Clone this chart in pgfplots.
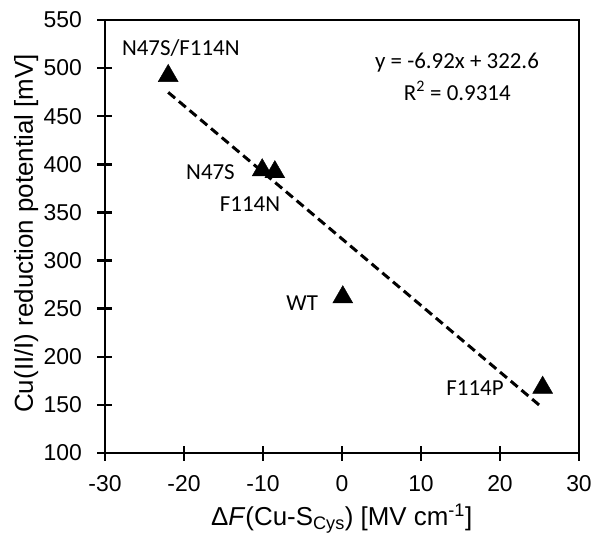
\documentclass[border=0pt]{standalone}
\usepackage{fontspec}
\setmainfont{Liberation Sans}
\newfontfamily\calibri{Carlito}
\usepackage{pgfplots}
\pgfplotsset{compat=1.18}
\begin{document}
\begin{tikzpicture}
\path[use as bounding box] (-105bp,-82bp) rectangle (492bp,453bp);
\begin{axis}[
  at={(0,0)}, anchor=south west,
  scale only axis, width=474bp, height=433bp,
  xmin=-30, xmax=30, ymin=100, ymax=550,
  xtick={-30,-20,...,30}, ytick={100,150,...,550},
  tick align=center, xtick pos=bottom, ytick pos=left,
  major tick length=15bp,
  axis line style={line width=2.5bp},
  every tick/.style={line width=2.5bp, black},
  /pgf/number format/assume math mode=true,
  ticklabel style={font=\fontsize{23}{27}\selectfont},
  yticklabel style={xshift=-12bp},
  xticklabel style={yshift=-11bp},
  xlabel={Δ\textit{F}(Cu-S\textsubscript{Cys}) [MV cm\textsuperscript{-1}]},
  ylabel={Cu(II/I) reduction potential [mV]},
  label style={font=\fontsize{26}{30}\selectfont},
  xlabel style={at={(axis description cs:0.4994,-0.168)}, anchor=base},
  ylabel style={at={(axis description cs:-0.152,0.507)}, anchor=base, rotate=0},
  clip=false,
]
\addplot[black, line width=3bp, dash pattern=on 9bp off 5bp] coordinates {(-22,474.8) (25.4,146.8)};
\addplot[only marks, mark=triangle*, mark size=11.5bp, black] coordinates {
(-22,492) (-10.1,394) (-8.5,392) (0.1,262) (25.4,168)};
\begin{scope}[every node/.style={font=\calibri\fontsize{23}{27}\selectfont}]
\node[anchor=base] at (axis cs:-20.4,513.6) {N47S/F114N};
\node[anchor=base east] at (axis cs:-13.13,384.7) {N47S};
\node[anchor=base] at (axis cs:-11.65,350.7) {F114N};
\node[anchor=base east] at (axis cs:-2.6,248.5) {WT};
\node[anchor=base east] at (axis cs:20.9,160.2) {F114P};
\node[anchor=base] at (axis cs:14.56,499.8) {y = -6.92x + 322.6};
\node[anchor=base] at (axis cs:14.6,466.8) {R\textsuperscript{2} = 0.9314};
\end{scope}
\end{axis}
\end{tikzpicture}
\end{document}
